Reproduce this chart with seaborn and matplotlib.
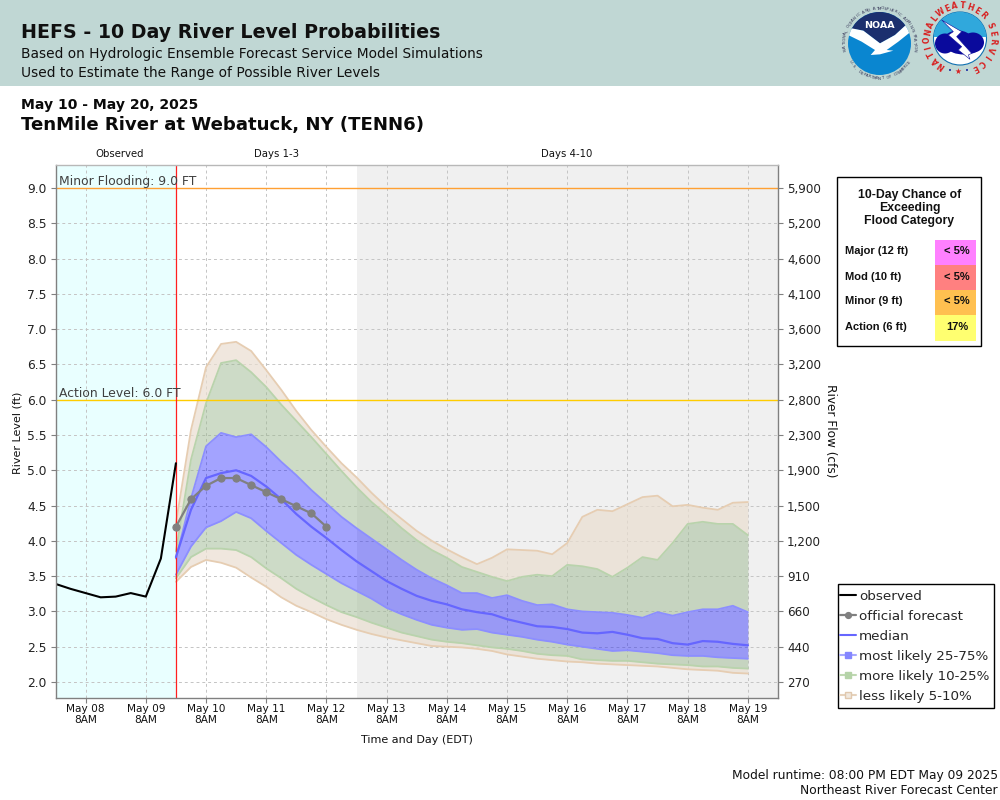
import numpy as np
import pandas as pd
import matplotlib
matplotlib.use("Agg")
import matplotlib.pyplot as plt
from matplotlib.lines import Line2D
from matplotlib.patches import Rectangle, Circle, Polygon, Ellipse
import seaborn as sns

# ---------- data ----------
obs_level = [3.39, 3.32, 3.26, 3.20, 3.21, 3.26, 3.21, 3.75, 5.10]
official = [4.20, 4.59, 4.78, 4.89, 4.89, 4.79, 4.69, 4.59, 4.49, 4.39, 4.20]
median = [3.77, 4.44, 4.89, 4.96, 5.00, 4.92, 4.77, 4.59, 4.38, 4.20, 4.04, 3.87, 3.71,
          3.57, 3.43, 3.32, 3.22, 3.15, 3.10, 3.03, 2.99, 2.96, 2.89, 2.84, 2.79, 2.78,
          2.75, 2.70, 2.69, 2.71, 2.67, 2.62, 2.61, 2.55, 2.53, 2.58, 2.57, 2.54, 2.52]
p95 = [4.25, 5.57, 6.46, 6.79, 6.82, 6.69, 6.42, 6.14, 5.84, 5.57, 5.33, 5.10, 4.90,
       4.68, 4.48, 4.31, 4.14, 4.00, 3.88, 3.77, 3.67, 3.76, 3.88, 3.87, 3.86, 3.81,
       3.97, 4.34, 4.44, 4.42, 4.52, 4.62, 4.64, 4.49, 4.51, 4.47, 4.44, 4.54, 4.55]
p90 = [3.85, 5.15, 5.95, 6.52, 6.56, 6.39, 6.18, 5.93, 5.70, 5.47, 5.23, 4.99, 4.76,
       4.55, 4.37, 4.18, 4.01, 3.87, 3.76, 3.63, 3.56, 3.49, 3.43, 3.49, 3.52, 3.50,
       3.66, 3.64, 3.60, 3.49, 3.62, 3.77, 3.73, 3.97, 4.24, 4.27, 4.24, 4.24, 4.08]
p75 = [3.75, 4.60, 5.34, 5.53, 5.47, 5.51, 5.33, 5.12, 4.93, 4.72, 4.53, 4.34, 4.18,
       4.03, 3.88, 3.73, 3.59, 3.47, 3.37, 3.26, 3.26, 3.19, 3.23, 3.15, 3.09, 3.10,
       3.03, 3.00, 2.99, 2.98, 2.95, 2.91, 2.99, 2.94, 2.99, 3.03, 3.03, 3.08, 2.99]
p25 = [3.52, 3.92, 4.19, 4.28, 4.41, 4.32, 4.14, 3.97, 3.80, 3.66, 3.53, 3.40, 3.29,
       3.18, 3.05, 2.96, 2.88, 2.81, 2.77, 2.74, 2.75, 2.70, 2.67, 2.64, 2.60, 2.57,
       2.53, 2.50, 2.47, 2.44, 2.45, 2.43, 2.41, 2.38, 2.37, 2.37, 2.35, 2.34, 2.33]
p10 = [3.47, 3.77, 3.89, 3.89, 3.87, 3.77, 3.61, 3.47, 3.32, 3.20, 3.09, 2.99, 2.92,
       2.84, 2.77, 2.70, 2.65, 2.60, 2.57, 2.55, 2.52, 2.49, 2.47, 2.44, 2.40, 2.38,
       2.37, 2.32, 2.31, 2.30, 2.30, 2.28, 2.26, 2.25, 2.24, 2.22, 2.22, 2.20, 2.19]
p5 = [3.42, 3.63, 3.73, 3.69, 3.62, 3.48, 3.35, 3.20, 3.08, 2.99, 2.89, 2.81, 2.74,
      2.68, 2.63, 2.59, 2.55, 2.51, 2.50, 2.49, 2.47, 2.44, 2.39, 2.36, 2.33, 2.31,
      2.29, 2.28, 2.26, 2.25, 2.24, 2.23, 2.22, 2.20, 2.18, 2.17, 2.16, 2.13, 2.12]
level_ticks = [2.0, 2.5, 3.0, 3.5, 4.0, 4.5, 5.0, 5.5, 6.0, 6.5, 7.0, 7.5, 8.0, 8.5, 9.0]
flow_labels = ["270", "440", "660", "910", "1,200", "1,500", "1,900", "2,300", "2,800",
               "3,200", "3,600", "4,100", "4,600", "5,200", "5,900"]
flood_cats = ["Major (12 ft)", "Mod (10 ft)", "Minor (9 ft)", "Action (6 ft)"]
flood_chance = ["< 5%", "< 5%", "< 5%", "17%"]
flood_colors = ["#FF80FF", "#FF8080", "#FFC050", "#FFFF70"]

# ---------- time axes ----------
t_start = pd.Timestamp("2025-05-07 20:00")
t_fcst = pd.Timestamp("2025-05-09 20:00")
t_days4 = pd.Timestamp("2025-05-12 20:00")
t_end = pd.Timestamp("2025-05-19 20:00")
obs_time = pd.date_range(t_start, periods=len(obs_level), freq="6h")
fc_time = pd.date_range(t_fcst, periods=len(median), freq="6h")
off_time = pd.date_range(t_fcst, periods=len(official), freq="6h")
day_ticks = pd.date_range("2025-05-08 08:00", "2025-05-19 08:00", freq="24h")

sns.set_theme(style="ticks")
plt.rcParams["font.family"] = ["DejaVu Sans"]

fig = plt.figure(figsize=(10, 8), dpi=100, facecolor="white")
W, H = 1000.0, 800.0
ax = fig.add_axes([55.5 / W, 1 - 697.5 / H, 722.5 / W, 533 / H], facecolor="white")

ax.axvspan(t_start, t_fcst, color="#E9FFFF", lw=0, zorder=0)
ax.axvspan(t_days4, t_end, color="#F0F0F0", lw=0, zorder=0)

TAN, GREEN, BLUE = (234/255, 222/255, 208/255), (157/255, 185/255, 145/255), (0, 0, 1)
p = {k: np.array(v) for k, v in dict(p95=p95, p90=p90, p75=p75, p25=p25, p10=p10, p5=p5).items()}
ax.fill_between(fc_time, p["p90"], p["p95"], color=TAN, alpha=0.70, lw=0, zorder=2)
ax.fill_between(fc_time, p["p5"], p["p10"], color=TAN, alpha=0.70, lw=0, zorder=2)
ax.fill_between(fc_time, p["p75"], p["p90"], color=GREEN, alpha=0.50, lw=0, zorder=2)
ax.fill_between(fc_time, p["p10"], p["p25"], color=GREEN, alpha=0.50, lw=0, zorder=2)
ax.fill_between(fc_time, p["p25"], p["p75"], color=BLUE, alpha=0.36, lw=0, zorder=2)

TAN_E, GREEN_E, BLUE_E = "#E6CDB2", "#B9D3AC", "#8C8EFF"
for key, col in [("p95", TAN_E), ("p5", TAN_E), ("p90", GREEN_E), ("p10", GREEN_E),
                 ("p75", BLUE_E), ("p25", BLUE_E)]:
    sns.lineplot(x=fc_time, y=p[key], ax=ax, color=col, lw=1.3, legend=False, zorder=3)

ax.axhline(9.0, color="#FFA033", lw=1.0, zorder=4)
ax.axhline(6.0, color="#FFCC00", lw=1.0, zorder=4)
ax.axvline(t_fcst, color="#FF2020", lw=0.9, zorder=4)

sns.lineplot(x=fc_time, y=median, ax=ax, color="#6666FF", lw=1.6, legend=False, zorder=5)
sns.lineplot(x=obs_time, y=obs_level, ax=ax, color="black", lw=1.5, legend=False, zorder=6)
sns.lineplot(x=off_time, y=official, ax=ax, color="#808080", lw=1.6, marker="o", ms=5.2,
             mec="#808080", mfc="#808080", legend=False, zorder=7)

ax.set_xlim(t_start, t_end)
ax.set_ylim(2 - 15.5 / 70.57, 9 + 23.5 / 70.57)
ax.set_yticks(level_ticks)
ax.set_yticklabels([f"{v:.1f}" for v in level_ticks], fontsize=8.8, color="#222222")
ax.set_xticks(day_ticks)
ax.set_xticklabels([d.strftime("%b %d") + "\n8AM" for d in day_ticks], fontsize=7.6,
                   color="#111111", linespacing=1.12)
ax.grid(True, color="#C4C4C4", ls=(0, (3, 3)), lw=0.7, zorder=1)
ax.set_axisbelow(True)
ax.tick_params(axis="y", length=3.5, width=0.8, color="#808080", pad=3)
ax.tick_params(axis="x", length=3.5, width=0.8, color="#808080", pad=1)
ax.set_xlabel("")
ax.set_ylabel("")
for s, c in dict(left="#808080", bottom="#808080", right="#808080", top="#B8B8B8").items():
    ax.spines[s].set_color(c)
    ax.spines[s].set_linewidth(1.0)
    ax.spines[s].set_visible(True)
    ax.spines[s].set_zorder(8)

ax2 = ax.twinx()
ax2.set_ylim(ax.get_ylim())
ax2.set_yticks(level_ticks)
ax2.set_yticklabels(flow_labels, fontsize=8.6, color="#222222")
ax2.tick_params(axis="y", length=3.5, width=0.8, color="#808080", pad=3)
for s in ax2.spines.values():
    s.set_visible(False)

# ---------- overlay in pixel coordinates ----------
ov = fig.add_axes([0, 0, 1, 1], facecolor="none", zorder=10)
ov.set_xlim(0, W)
ov.set_ylim(H, 0)
ov.axis("off")

ov.add_patch(Rectangle((0, 0), W, 85.5, fc="#C0D7D4", ec="none", zorder=0))
ov.text(21, 33, "HEFS - 10 Day River Level Probabilities", fontsize=13.7, fontweight="bold",
        color="#101010", va="center", ha="left")
ov.text(21, 54, "Based on Hydrologic Ensemble Forecast Service Model Simulations", fontsize=9.9,
        color="#101010", va="center", ha="left")
ov.text(21, 73, "Used to Estimate the Range of Possible River Levels", fontsize=9.9,
        color="#101010", va="center", ha="left")
ov.text(21, 105, "May 10 - May 20, 2025", fontsize=10.1, fontweight="bold", color="#0A0A0A",
        va="center", ha="left")
ov.text(21, 125, "TenMile River at Webatuck, NY (TENN6)", fontsize=13.06, fontweight="bold",
        color="#0A0A0A", va="center", ha="left")
for x, s in [(120, "Observed"), (276.5, "Days 1-3"), (567, "Days 4-10")]:
    ov.text(x, 154, s, fontsize=7.3, color="#111111", ha="center", va="center")
ov.text(59, 181.5, "Minor Flooding: 9.0 FT", fontsize=8.9, color="#404040", va="center", ha="left")
ov.text(59, 393.5, "Action Level: 6.0 FT", fontsize=8.9, color="#404040", va="center", ha="left")
ov.text(18, 433, "River Level (ft)", fontsize=8, rotation=90, color="#111111", ha="center", va="center")
ov.text(831, 431, "River Flow (cfs)", fontsize=8.7, rotation=270, color="#111111", ha="center", va="center")
ov.text(417, 740, "Time and Day (EDT)", fontsize=8, color="#111111", ha="center", va="center")
ov.text(998, 775, "Model runtime: 08:00 PM EDT May 09 2025", fontsize=8.8, color="#111111",
        ha="right", va="center")
ov.text(998, 791, "Northeast River Forecast Center", fontsize=8.8, color="#111111",
        ha="right", va="center")

# flood category box
ov.add_patch(Rectangle((836.5, 176.5), 144, 169, fc="white", ec="black", lw=1.0, zorder=1))
for y, s in [(195, "10-Day Chance of"), (208, "Exceeding"), (221, "Flood Category")]:
    ov.text(909.5, y, s, family="Liberation Sans", fontweight="bold", fontsize=8.8, color="#111111",
            ha="center", va="center", zorder=3)
row_edges = [240, 265, 290, 315, 341]
for i, (cat, ch, col) in enumerate(zip(flood_cats, flood_chance, flood_colors)):
    y0, y1 = row_edges[i], row_edges[i + 1]
    ov.add_patch(Rectangle((935, y0), 41, y1 - y0, fc=col, ec="none", zorder=2))
    ymid = 251.5 + 25 * i
    ov.text(845, ymid, cat, family="Liberation Sans", fontweight="bold", fontsize=8.0,
            color="#111111", ha="left", va="center", zorder=3)
    ov.text(957, ymid, ch, family="Liberation Sans", fontweight="bold", fontsize=8.0,
            color="#111111", ha="center", va="center", zorder=3)

# ---------- logos ----------
def ring_text(cx, cy, r, s, a0, a1, flip=False, **kw):
    for ch, a in zip(s, np.linspace(a0, a1, len(s))):
        rad = np.deg2rad(a)
        rot = -a + (180 if flip else 0)
        ov.text(cx + r * np.sin(rad), cy - r * np.cos(rad), ch, rotation=rot,
                rotation_mode="anchor", ha="center", va="center", zorder=6, **kw)

def zp(pts):
    return [(840 + a / 3.0, b / 3.0) for a, b in pts]

# NOAA
nx, ny, nr = 879.5, 43.5, 31.5
disk = Circle((nx, ny), nr, fc="#0A86D0", ec="none", zorder=3)
ov.add_patch(disk)
navy = Polygon(zp([(0, 0), (240, 0), (240, 50), (220, 55), (165, 105), (120, 130), (70, 92), (0, 80)]),
               fc="#1B2F6E", ec="none", zorder=4)
ov.add_patch(navy)
navy.set_clip_path(disk)
bird = Polygon(zp([(10, 80), (70, 92), (120, 130), (165, 105), (225, 50), (225, 85), (175, 125),
                   (140, 150), (160, 152), (120, 163), (92, 165), (105, 150), (65, 125), (10, 98)]),
               fc="white", ec="none", zorder=5)
ov.add_patch(bird)
bird.set_clip_path(disk)
ov.text(nx, 25, "NOAA", fontsize=6.8, fontweight="bold", color="white", ha="center",
        va="center", zorder=6)
ring_text(nx, ny, 35, "NATIONAL OCEANIC AND ATMOSPHERIC ADMINISTRATION", -100, 100,
          fontsize=2.9, color="#333355")
ring_text(nx, ny, 35, "U.S. DEPARTMENT OF COMMERCE", 238, 122, flip=True, fontsize=2.9, color="#333355")

# NWS
wx, wy, wr = 960, 38.5, 26.5
wdisk = Circle((wx, wy), wr, fc="white", ec="#1070B0", lw=0.8, zorder=3)
ov.add_patch(wdisk)
sky = Rectangle((wx - wr, wy - wr), 2 * wr, wr * 0.95, fc="#30A8DC", ec="none", zorder=4)
ov.add_patch(sky)
sky.set_clip_path(wdisk)
for dx, dy, w, h in [(-15, 5, 20, 20), (-2, 3, 30, 22), (13, 4, 22, 20), (4, 10, 30, 12)]:
    ell = Ellipse((wx + dx, wy + dy), w, h, fc="#0A0A9C", ec="none", zorder=5)
    ov.add_patch(ell)
    ell.set_clip_path(wdisk)
ov.add_patch(Polygon(zp([(305, 60), (365, 95), (350, 110), (395, 160), (385, 165), (390, 178),
                         (355, 150), (365, 140), (325, 105), (340, 95)]),
                     fc="white", ec="#0A0A9C", lw=0.4, zorder=6))
ring_text(wx, wy, 32.5, "NATIONAL", -145, -52, fontsize=5.6, fontweight="bold", color="#D82020")
ring_text(wx, wy, 32.5, "WEATHER", -36, 45, fontsize=5.6, fontweight="bold", color="#D82020")
ring_text(wx, wy, 32.5, "SERVICE", 67, 153, fontsize=5.6, fontweight="bold", color="#D82020")
ov.text(950, 71, "•", fontsize=5, color="#1020A0", ha="center", va="center", zorder=6)
ov.text(967, 71, "•", fontsize=5, color="#1020A0", ha="center", va="center", zorder=6)
ov.text(957.5, 71.5, "★", fontsize=5.5, color="#D82020", ha="center", va="center", zorder=6)

# ---------- legend ----------
ov.add_patch(Rectangle((837.5, 583.5), 156.5, 124, fc="white", ec="black", lw=1.0, zorder=1))
handles = [
    Line2D([], [], color="black", lw=1.5),
    Line2D([], [], color="#808080", lw=1.6, marker="o", ms=4.2),
    Line2D([], [], color="#6666FF", lw=1.5),
    Line2D([], [], color="#A6A8FF", lw=1.5, marker="s", ms=5, mfc="#8486FF", mec="#8486FF"),
    Line2D([], [], color="#BFD8B2", lw=1.5, marker="s", ms=5, mfc="#B5D3A8", mec="#B5D3A8"),
    Line2D([], [], color="#E6D2BC", lw=1.5, marker="s", ms=5, mfc="#F0E8DE", mec="#E0C8AE"),
]
labels = ["observed", "official forecast", "median", "most likely 25-75%",
          "more likely 10-25%", "less likely 5-10%"]
leg = fig.legend(handles, labels, loc="upper left", bbox_to_anchor=(840 / W, 1 - 589.5 / H),
                 bbox_transform=fig.transFigure, fontsize=9.7, frameon=False, borderpad=0,
                 labelspacing=0.53, handlelength=1.2, handletextpad=0.22, borderaxespad=0)
leg.set_zorder(20)

fig.savefig("out.png", dpi=100, facecolor="white")
